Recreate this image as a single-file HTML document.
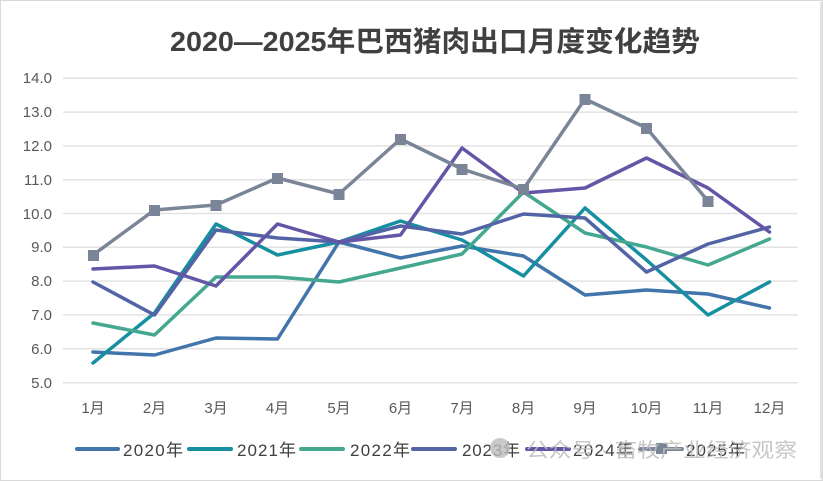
<!DOCTYPE html>
<html><head><meta charset="utf-8"><style>
body{margin:0;background:#fff;}
svg{display:block;font-family:"Liberation Sans","Noto Sans CJK SC",sans-serif;}
</style></head><body>
<svg width="823" height="481" viewBox="0 0 823 481" xmlns="http://www.w3.org/2000/svg">
<rect x="0.5" y="0.5" width="822" height="480" fill="#fff" stroke="#d9d9d9"/>
<text x="170" y="51" font-size="28" font-weight="bold" fill="#404040" textLength="530" lengthAdjust="spacingAndGlyphs">2020—2025年巴西猪肉出口月度变化趋势</text>
<g stroke="#e2e2e2" stroke-width="1.5">
<line x1="63" x2="798" y1="78.3" y2="78.3"/><line x1="63" x2="798" y1="112.1" y2="112.1"/>
<line x1="63" x2="798" y1="145.9" y2="145.9"/><line x1="63" x2="798" y1="179.7" y2="179.7"/>
<line x1="63" x2="798" y1="213.5" y2="213.5"/><line x1="63" x2="798" y1="247.3" y2="247.3"/>
<line x1="63" x2="798" y1="281.1" y2="281.1"/><line x1="63" x2="798" y1="314.9" y2="314.9"/>
<line x1="63" x2="798" y1="348.7" y2="348.7"/><line x1="63" x2="798" y1="382.7" y2="382.7"/>
</g>
<g font-size="15" fill="#595959" text-anchor="end">
<text x="52" y="83">14.0</text><text x="52" y="117">13.0</text><text x="52" y="151">12.0</text>
<text x="52" y="185">11.0</text><text x="52" y="219">10.0</text><text x="52" y="252">9.0</text>
<text x="52" y="286">8.0</text><text x="52" y="320">7.0</text><text x="52" y="354">6.0</text><text x="52" y="388">5.0</text>
</g>
<g font-size="15" fill="#595959" text-anchor="middle">
<text x="93" y="413">1月</text><text x="154.5" y="413">2月</text><text x="216" y="413">3月</text><text x="277.5" y="413">4月</text>
<text x="339" y="413">5月</text><text x="400.5" y="413">6月</text><text x="462" y="413">7月</text><text x="523.5" y="413">8月</text>
<text x="585" y="413">9月</text><text x="646.5" y="413">10月</text><text x="708" y="413">11月</text><text x="769.5" y="413">12月</text>
</g>
<g fill="none" stroke-width="3.5" stroke-linejoin="round" stroke-linecap="round">
<polyline stroke="#4275ab" points="93,352 154.5,355 216,338 277.5,339 339,242 400.5,258 462,246 523.5,256 585,295 646.5,290 708,294 769.5,308"/>
<polyline stroke="#168fa0" points="93,363 154.5,313 216,224 277.5,255 339,242 400.5,221 462,240 523.5,276 585,208 646.5,260 708,315 769.5,282"/>
<polyline stroke="#44a890" points="93,323 154.5,335 216,277 277.5,277 339,282 400.5,268 462,254 523.5,192 585,233 646.5,247 708,265 769.5,239"/>
<polyline stroke="#5264a6" points="93,282 154.5,315 216,230 277.5,238 339,242 400.5,226 462,234 523.5,214 585,218 646.5,272 708,244 769.5,227"/>
<polyline stroke="#6455a6" points="93,269 154.5,266 216,286 277.5,224 339,242 400.5,235 462,148 523.5,193 585,188 646.5,158 708,188 769.5,232"/>
<polyline stroke="#7a8698" points="93,255 154.5,210 216,205 277.5,178 339,194 400.5,139 462,169 523.5,189 585,99 646.5,128 708,201"/>
</g>
<g fill="#7a8698">
<rect x="88" y="250" width="11" height="11"/><rect x="149" y="205" width="11" height="11"/><rect x="210.5" y="200" width="11" height="11"/>
<rect x="272" y="173" width="11" height="11"/><rect x="333.5" y="189" width="11" height="11"/><rect x="395" y="134" width="11" height="11"/>
<rect x="456.5" y="164" width="11" height="11"/><rect x="518" y="184" width="11" height="11"/><rect x="579.5" y="94" width="11" height="11"/>
<rect x="641" y="123" width="11" height="11"/><rect x="702.5" y="196" width="11" height="11"/>
</g>
<line x1="821" y1="2" x2="821" y2="479" stroke="#d9d9d9" stroke-width="1.5"/>
<g stroke-width="4" stroke-linecap="round">
<line x1="77" x2="118" y1="449" y2="449" stroke="#4275ab"/>
<line x1="189" x2="231" y1="449" y2="449" stroke="#168fa0"/>
<line x1="301" x2="343" y1="449" y2="449" stroke="#44a890"/>
<line x1="413" x2="455" y1="449" y2="449" stroke="#5264a6"/>
<line x1="527" x2="569" y1="449" y2="449" stroke="#6455a6"/>
<line x1="640" x2="682" y1="449" y2="449" stroke="#7a8698"/>
</g>
<rect x="656" y="443" width="11" height="11" fill="#7a8698"/>
<g font-size="17" fill="#404040" lengthAdjust="spacingAndGlyphs">
<text x="123" y="456" textLength="60">2020年</text><text x="237" y="456" textLength="59">2021年</text><text x="350" y="456" textLength="60">2022年</text>
<text x="462" y="456" textLength="58">2023年</text><text x="573" y="456" textLength="60">2024年</text><text x="686" y="456" textLength="59">2025年</text>
</g>
<circle cx="500" cy="448" r="10" fill="#bbb" opacity="0.8"/>
<text x="526" y="457" font-size="20" fill="#bdbdbd" opacity="0.85" textLength="271" lengthAdjust="spacingAndGlyphs">公众号 · 畜牧产业经济观察</text>
</svg>
</body></html>
